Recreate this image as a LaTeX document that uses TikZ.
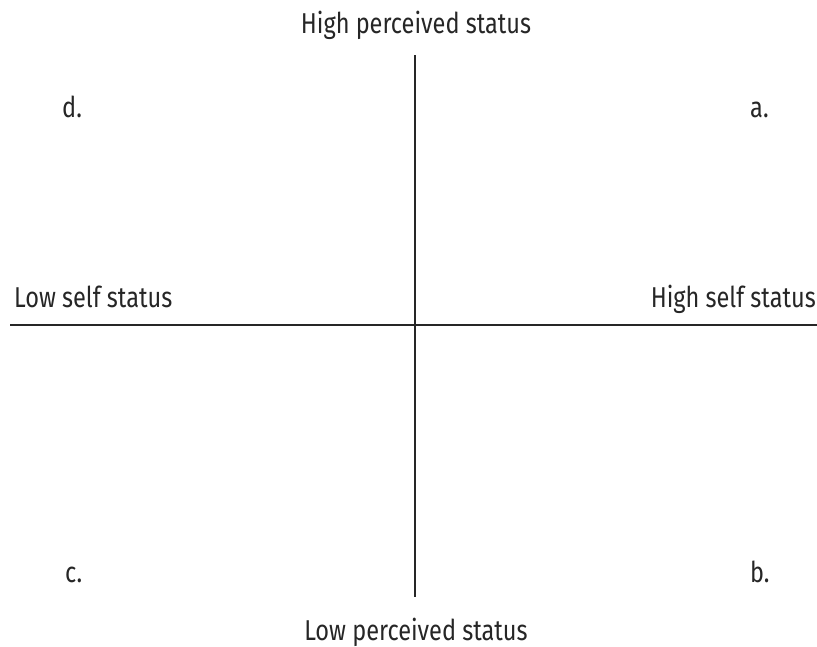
\documentclass[tikz,border=0pt]{standalone}
\usepackage{fontspec}
\setmainfont{Fira Sans}[FakeStretch=0.82]
\begin{document}
\begin{tikzpicture}[x=1pt,y=-1pt,
  axis/.style={line width=2pt,draw=black!85},
  lbl/.style={inner sep=0pt,text=black!85,font=\fontsize{28.7}{32}\selectfont}]
\useasboundingbox (0,0) rectangle (817,646);
\coordinate (vt) at (415,55);
\coordinate (vb) at (415,597);
\coordinate (hl) at (10,325);
\coordinate (hr) at (817,325);
\draw[axis] (vt) -- (vb);
\draw[axis] (hl) -- (hr);
\node[lbl,anchor=base] (top) at (416,33) {High perceived status};
\node[lbl,anchor=base] (bot) at (416,640) {Low perceived status};
\node[lbl,anchor=base west] (left) at (14,307) {Low self status};
\node[lbl,anchor=base east] (right) at (816,307) {High self status};
\node[lbl,anchor=base west] (d) at (62,117) {d.};
\node[lbl,anchor=base west] (a) at (750,117) {a.};
\node[lbl,anchor=base west] (c) at (65,582) {c.};
\node[lbl,anchor=base west] (b) at (750,582) {b.};
\end{tikzpicture}
\end{document}
